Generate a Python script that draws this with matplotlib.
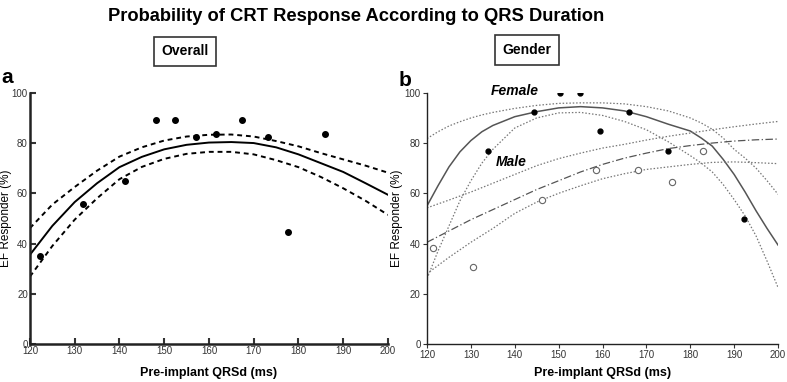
import matplotlib.pyplot as plt

plt.rcParams['font.family'] = ['Liberation Sans', 'DejaVu Sans']

# Panel a: overall
a_x = [122.2, 131.9, 141.2, 148.1, 152.5, 157.0, 161.5, 167.3, 173.2, 177.7, 185.9]
a_y = [35.2, 55.7, 64.8, 89.1, 89.1, 82.4, 83.6, 89.1, 82.4, 44.4, 83.6]

fit_x = [120, 125, 130, 135, 140, 145, 150, 155, 160, 165, 170, 175, 180, 185, 190, 195, 200]
a_fit = [35.5, 47, 56.5, 64, 70.4, 74.5, 77.5, 79.3, 80.2, 80.4, 80, 78.3, 75.5, 72, 68.5, 64, 59.4]
a_upper = [46.1, 55.5, 62.5, 69, 74.6, 78.3, 81, 82.6, 83.3, 83.4, 82.6, 80.8, 78.7, 76, 73.5, 71, 68.2]
a_lower = [26.8, 39, 49.5, 58, 65.6, 70.5, 73.7, 75.7, 76.5, 76.5, 75.5, 73.2, 70.4, 66.5, 62, 57, 51.4]

# Panel b: gender
fem_x = [133.8, 144.3, 150.3, 154.9, 159.4, 166.0, 174.9, 192.2]
fem_y = [77.0, 92.4, 100, 100, 84.7, 92.4, 77.0, 49.9]
male_x = [121.4, 130.5, 146.2, 158.5, 168.1, 175.9, 183.0]
male_y = [38.4, 30.7, 57.2, 69.2, 69.2, 64.3, 76.8]

b_x = [120, 122.5, 125, 127.5, 130, 132.5, 135, 140, 145, 150, 155, 160, 165, 170, 175,
       180, 182.5, 185, 187.5, 190, 192.5, 195, 197.5, 200]
fem_fit = [55, 63, 70.5, 76.5, 81, 84.5, 87, 90.5, 92.5, 94, 94.5, 94, 92.8, 90.5, 87.5,
           84.8, 82, 78.8, 73.5, 67.5, 60.5, 53, 46, 39.4]
fem_upper = [81.8, 84.5, 86.8, 88.5, 90, 91.2, 92.2, 93.8, 95, 95.8, 96, 96, 95.6, 94.5, 92.8,
             90, 88, 85.5, 82, 77.5, 74, 70, 65, 59.6]
fem_lower = [26, 37, 47, 57, 65, 72, 77.5, 86, 90, 92, 92.2, 91, 88.6, 85.3, 80.5,
             75, 72, 68.5, 63.5, 57.5, 51, 43, 33, 22.5]

m_x = [120, 125, 130, 135, 140, 145, 150, 155, 160, 165, 170, 175, 180, 185, 190, 195, 200]
male_fit = [40.5, 45, 49.5, 53.5, 57.5, 61.5, 65, 68.5, 71.5, 74, 76, 77.8, 79, 80, 80.8, 81.3, 81.6]
male_upper = [54.2, 57.3, 60.5, 64, 67.5, 71, 73.8, 76, 78, 79.5, 81.2, 82.7, 84, 85.3, 86.5, 87.6, 88.6]
male_lower = [28, 34.5, 40.5, 46, 52, 56.5, 60, 63, 65.8, 67.8, 69.5, 70.5, 71.5, 72.3, 72.5, 72.2, 71.8]

xticks = [120, 130, 140, 150, 160, 170, 180, 190, 200]
yticks = [0, 20, 40, 60, 80, 100]

fig = plt.figure(figsize=(7.87, 3.82), dpi=100)
ax1 = fig.add_axes([0.038, 0.0995, 0.455, 0.6575])
ax2 = fig.add_axes([0.5426, 0.0995, 0.446, 0.6575])

# panel a
ax1.plot(fit_x, a_fit, color='black', lw=1.4)
ax1.plot(fit_x, a_upper, color='black', lw=1.4, dashes=(2.5, 2))
ax1.plot(fit_x, a_lower, color='black', lw=1.4, dashes=(2.5, 2))
ax1.plot(a_x, a_y, 'o', color='black', ms=4)
for s in ['top', 'right']:
    ax1.spines[s].set_visible(False)
for s in ['left', 'bottom']:
    ax1.spines[s].set_linewidth(1.8)
ax1.tick_params(direction='in', length=4, width=1.5, labelsize=7, colors='#333333', pad=1.5)

# panel b
ax2.plot(b_x, fem_fit, color='#555555', lw=1.1)
ax2.plot(b_x, fem_upper, color='#777777', lw=0.9, dashes=(1.2, 1.5))
ax2.plot(b_x, fem_lower, color='#777777', lw=0.9, dashes=(1.2, 1.5))
ax2.plot(m_x, male_fit, color='#555555', lw=0.9, dashes=(6, 2, 1, 2))
ax2.plot(m_x, male_upper, color='#777777', lw=0.9, dashes=(1.2, 1.5))
ax2.plot(m_x, male_lower, color='#777777', lw=0.9, dashes=(1.2, 1.5))
ax2.plot(fem_x, fem_y, 'o', color='black', ms=3.5)
ax2.plot(male_x, male_y, 'o', mfc='white', mec='#666666', mew=0.8, ms=4.5)
ax2.text(140.1, 100.8, 'Female', fontsize=10, fontweight='bold', fontstyle='italic',
         ha='center', va='center')
ax2.text(139.1, 72.3, 'Male', fontsize=10, fontweight='bold', fontstyle='italic',
         ha='center', va='center')
for s in ['top', 'right']:
    ax2.spines[s].set_visible(False)
for s in ['left', 'bottom']:
    ax2.spines[s].set_linewidth(1.0)
ax2.tick_params(direction='out', length=3, width=0.8, labelsize=7, colors='#333333', pad=1.5)

for ax in [ax1, ax2]:
    ax.set_xlim(120, 200)
    ax.set_ylim(0, 100)
    ax.set_xticks(xticks)
    ax.set_yticks(yticks)
    ax.set_xlabel('Pre-implant QRSd (ms)', fontsize=9, fontweight='bold')
    ax.set_ylabel('EF Responder (%)', fontsize=8.5)
    ax.xaxis.set_label_coords(0.5, -0.092)
    ax.spines['left'].set_color('#222222')
    ax.spines['bottom'].set_color('#222222')

ax1.yaxis.set_label_coords(-0.05, 0.5)
ax2.yaxis.set_label_coords(-0.068, 0.5)

fig.text(0.452, 0.958, 'Probability of CRT Response According to QRS Duration',
         fontsize=13.2, fontweight='bold', ha='center', va='center')
fig.text(0.235, 0.866, 'Overall', fontsize=10, fontweight='bold', ha='center', va='center',
         bbox=dict(boxstyle='square,pad=0.55', fc='white', ec='#333333', lw=1.2))
fig.text(0.6696, 0.869, 'Gender', fontsize=10, fontweight='bold', ha='center', va='center',
         bbox=dict(boxstyle='square,pad=0.55', fc='white', ec='#333333', lw=1.2))
fig.text(0.009, 0.796, 'a', fontsize=15, fontweight='bold', ha='center', va='center')
fig.text(0.5146, 0.79, 'b', fontsize=15, fontweight='bold', ha='center', va='center')

fig.savefig('out.png', dpi=100)
